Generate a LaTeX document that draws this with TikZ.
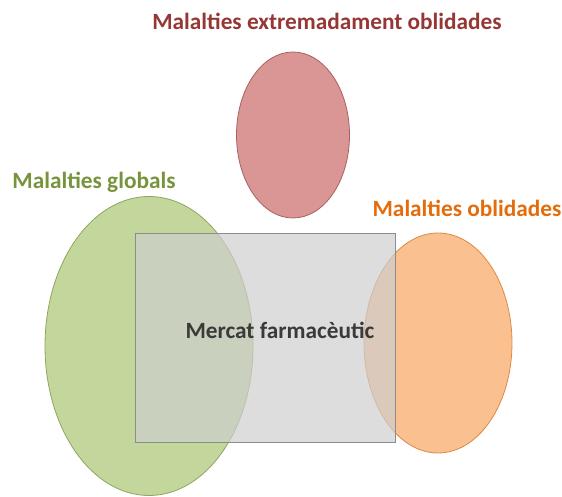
\documentclass[tikz,border=0pt]{standalone}
\usepackage{fontspec}
\setmainfont{Carlito}
\usetikzlibrary{shapes.geometric}

\definecolor{redfill}{HTML}{D99694}
\definecolor{redline}{HTML}{A9615F}
\definecolor{redtext}{HTML}{953735}
\definecolor{greenfill}{HTML}{C3D69B}
\definecolor{greenline}{HTML}{8FA65E}
\definecolor{greentext}{HTML}{77933C}
\definecolor{orangefill}{HTML}{FAC090}
\definecolor{orangeline}{HTML}{DB8A45}
\definecolor{orangetext}{HTML}{E46C0A}
\definecolor{marketfill}{HTML}{CECECE}
\definecolor{marketline}{HTML}{8C8C8C}
\definecolor{markettext}{HTML}{3A3A3A}

\begin{document}
\begin{tikzpicture}[x=1pt,y=-1pt,
  blob/.style={ellipse, inner sep=0pt, line width=0.8pt},
  tag/.style={font=\fontsize{23.3}{26}\selectfont\bfseries, inner sep=0pt}]

\useasboundingbox (0,0) rectangle (562,497);

% groups of diseases
\node[blob, draw=greenline, fill=greenfill, minimum width=208pt, minimum height=299pt] (globals) at (149,346) {};
\node[blob, draw=redline, fill=redfill, minimum width=113pt, minimum height=166pt] (extrem) at (293,135) {};
\node[blob, draw=orangeline, fill=orangefill, minimum width=148pt, minimum height=220pt] (oblid) at (438,343) {};

% market
\node[draw=marketline, fill=marketfill, fill opacity=0.7, line width=0.8pt, minimum width=260pt, minimum height=209pt, inner sep=0pt] (mercat) at (265.5,337.5) {};
\node[tag, text=markettext] (mercatlbl) at (280,330) {Mercat farmacèutic};

% labels
\node[tag, text=redtext] (extremlbl) at (327,21) {Malalties extremadament oblidades};
\node[tag, text=greentext] (globalslbl) at (94,182) {Malalties globals};
\node[tag, text=orangetext] (oblidlbl) at (467,208) {Malalties oblidades};

\end{tikzpicture}
\end{document}
